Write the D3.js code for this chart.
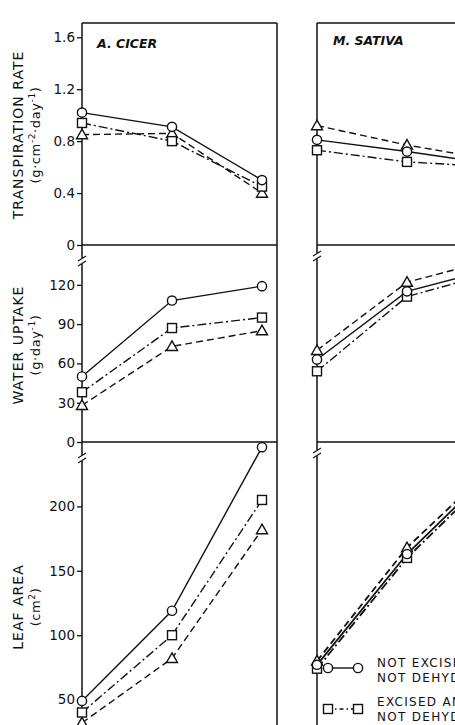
<!DOCTYPE html>
<html>
<head>
<meta charset="utf-8">
<script src="https://cdn.jsdelivr.net/npm/d3@7"></script>
<style>
  body { margin: 0; background: #fff; }
  text { font-family: "DejaVu Sans", "Liberation Sans", sans-serif; fill: #111; }
</style>
</head>
<body>
<svg id="chart"></svg>
<script>
// sampling points along the x axis (axis itself is cut off in the figure)
const stages = [0, 1, 2];
const species = ["A. CICER", "M. SATIVA"];
const treatments = ["circle", "square", "triangle"];

// transpiration rate, g cm-2 day-1
const cicerTransp = { circle: [1.02, 0.91, 0.50], square: [0.94, 0.80, 0.45], triangle: [0.85, 0.86, 0.40] };
const sativaTransp = { circle: [0.81, 0.72, 0.62], square: [0.73, 0.64, 0.60], triangle: [0.92, 0.77, 0.65] };
// water uptake, g day-1
const cicerUptake = { circle: [50, 108, 119], square: [38, 87, 95], triangle: [28, 73, 85] };
const sativaUptake = { circle: [63, 115, 133], square: [54, 111, 130], triangle: [70, 122, 140] };
// leaf area, cm2
const cicerLeaf = { circle: [49, 119, 246], square: [40, 100, 205], triangle: [32, 82, 182] };
const sativaLeaf = { circle: [77, 163, 231], square: [74, 160, 228], triangle: [80, 168, 234] };

const transpTicks = [0, 0.4, 0.8, 1.2, 1.6];
const uptakeTicks = [0, 30, 60, 90, 120];
const leafTicks = [50, 100, 150, 200];

const legendLabels = [
  ["NOT EXCISED,", "NOT DEHYDRATED"],
  ["EXCISED AND", "NOT DEHYDRATED"],
  ["EXCISED AND", "DEHYDRATED"]
];

const width = 455, height = 725;
const svg = d3.select("#chart").attr("width", width).attr("height", height);

const panelLeft = [82, 317], panelW = 195;
const rows = [
  { top: 23, bottom: 245, domain: [0, 1.71], ticks: transpTicks, fmt: d => d === 0 ? "0" : d3.format(".1f")(d),
    data: [cicerTransp, sativaTransp], title: "TRANSPIRATION RATE", unit: [["(g·cm", ""], ["-2", "s"], ["·day", ""], ["-1", "s"], [")", ""]], brk: false },
  { top: 245, bottom: 442, domain: [0, 150.4], ticks: uptakeTicks, fmt: d3.format("d"),
    data: [cicerUptake, sativaUptake], title: "WATER UPTAKE", unit: [["(g·day", ""], ["-1", "s"], [")", ""]], brk: true },
  { top: 442, bottom: 764, domain: [0, 250], ticks: leafTicks, fmt: d3.format("d"),
    data: [cicerLeaf, sativaLeaf], title: "LEAF AREA", unit: [["(cm", ""], ["2", "s"], [")", ""]], brk: true }
];

const dash = { circle: null, square: "9,3,2,3", triangle: "7,4" };

function drawMarker(g, type, cx, cy) {
  if (type === "circle") {
    g.append("circle").attr("cx", cx).attr("cy", cy).attr("r", 4.6)
      .attr("fill", "#fff").attr("stroke", "#111").attr("stroke-width", 1.4);
  } else if (type === "square") {
    g.append("rect").attr("x", cx - 4.5).attr("y", cy - 4.5).attr("width", 9).attr("height", 9)
      .attr("fill", "#fff").attr("stroke", "#111").attr("stroke-width", 1.4);
  } else {
    const s = 5.5;
    g.append("path").attr("d", `M${cx},${cy - s}L${cx + s},${cy + s * 0.75}L${cx - s},${cy + s * 0.75}Z`)
      .attr("fill", "#fff").attr("stroke", "#111").attr("stroke-width", 1.4);
  }
}

rows.forEach((row, ri) => {
  const y = d3.scaleLinear().domain(row.domain).range([row.bottom, row.top]);

  panelLeft.forEach((px, pi) => {
    const x = d3.scaleLinear().domain([0, 2]).range([px, px + 180]);
    const g = svg.append("g");

    // frame
    g.append("line").attr("x1", px).attr("x2", px + panelW).attr("y1", row.top).attr("y2", row.top)
      .attr("stroke", "#111").attr("stroke-width", 1.5);
    g.append("line").attr("x1", px).attr("x2", px).attr("y1", row.top).attr("y2", row.bottom)
      .attr("stroke", "#111").attr("stroke-width", 1.5);
    g.append("line").attr("x1", px + panelW).attr("x2", px + panelW).attr("y1", row.top).attr("y2", row.bottom)
      .attr("stroke", "#111").attr("stroke-width", 1.5);

    // axis break
    if (row.brk) {
      const by = row.top + (pi === 0 ? 16 : 11);
      g.append("rect").attr("x", px - 3).attr("y", by - 3).attr("width", 6).attr("height", 6).attr("fill", "#fff");
      [-2.5, 2.5].forEach(o => {
        g.append("line").attr("x1", px - 4).attr("x2", px + 4).attr("y1", by + o + 2.5).attr("y2", by + o - 2.5)
          .attr("stroke", "#111").attr("stroke-width", 1.2);
      });
    }

    if (pi === 0) {
      const axis = d3.axisLeft(y).tickValues(row.ticks).tickFormat(row.fmt).tickSize(5).tickPadding(2);
      const ag = g.append("g").attr("transform", `translate(${px},0)`).call(axis);
      ag.select(".domain").remove();
      ag.selectAll("line").attr("stroke", "#111").attr("stroke-width", 1.3);
      ag.selectAll("text").style("font-size", "13.5px").attr("fill", "#111")
        .style("font-family", "'DejaVu Sans', sans-serif");
    }

    if (ri === 0) {
      g.append("text").attr("x", px + (pi === 0 ? 15 : 16)).attr("y", pi === 0 ? 48 : 45)
        .style("font-size", "12.5px").style("font-style", "italic").style("font-weight", "bold")
        .text(species[pi]);
    }

    const clip = `clip-${ri}-${pi}`;
    svg.append("clipPath").attr("id", clip).append("rect")
      .attr("x", px - 10).attr("y", row.top - 8).attr("width", panelW + 20).attr("height", row.bottom - row.top + 16);
    const dg = g.append("g").attr("clip-path", `url(#${clip})`);

    const line = d3.line().x((d, i) => x(stages[i])).y(d => y(d));
    const series = row.data[pi];
    treatments.forEach(t => {
      dg.append("path").attr("d", line(series[t])).attr("fill", "none")
        .attr("stroke", "#111").attr("stroke-width", ri === 2 && pi === 1 ? 1.8 : 1.4)
        .attr("stroke-dasharray", dash[t]);
    });
    treatments.slice().reverse().forEach(t => {
      series[t].forEach((v, i) => drawMarker(dg, t, x(stages[i]), y(v)));
    });
  });

  // axis titles
  const mid = ri === 0 ? 135 : ri === 1 ? 345 : 607;
  svg.append("text").attr("transform", `translate(23,${mid}) rotate(-90)`).attr("text-anchor", "middle")
    .style("font-size", "14px").style("letter-spacing", "1px").text(row.title);
  const ut = svg.append("text").attr("transform", `translate(40,${mid}) rotate(-90)`).attr("text-anchor", "middle")
    .style("font-size", "13px").style("letter-spacing", "0.6px");
  row.unit.forEach(([s, kind]) => {
    const ts = ut.append("tspan").text(s);
    if (kind === "s") ts.attr("baseline-shift", "super").style("font-size", "9px");
  });
});

// legend
const legendY = [668, 709, 752];
treatments.forEach((t, i) => {
  const g = svg.append("g");
  g.append("line").attr("x1", 328).attr("x2", 358).attr("y1", legendY[i]).attr("y2", legendY[i])
    .attr("stroke", "#111").attr("stroke-width", 1.4).attr("stroke-dasharray", dash[t] ? "4,3,1.5,3" : null);
  drawMarker(g, t, 328, legendY[i]);
  drawMarker(g, t, 358, legendY[i]);
  legendLabels[i].forEach((s, j) => {
    g.append("text").attr("x", 377).attr("y", legendY[i] - 1 + j * 14.5 - (i === 0 ? 0 : 2))
      .style("font-size", "12px").style("letter-spacing", "1.3px").text(s);
  });
});
</script>
</body>
</html>
